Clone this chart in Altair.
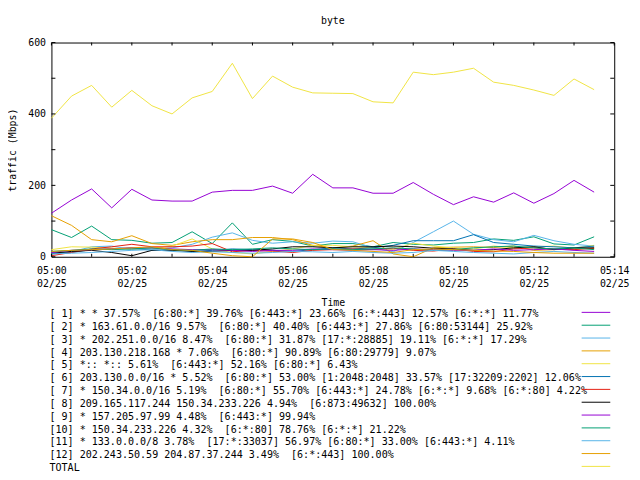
import altair as alt
import pandas as pd

FONT = "DejaVu Sans Mono"

# ---- data (Mbps, sampled every 30 s from 05:00) ----
keys = ["01", "02", "03", "04", "05", "06", "07", "08", "09", "10", "11", "12", "TOTAL"]
colors = ["#9400d3", "#009e73", "#56b4e9", "#e69f00", "#f0e442", "#0072b2", "#e51e10",
          "#000000", "#9400d3", "#009e73", "#56b4e9", "#e69f00", "#f0e442"]

s01 = [122, 159, 190, 137, 189, 159, 156, 156, 181, 186, 186, 198, 178, 231,
       193, 193, 178, 178, 208, 175, 146, 168, 153, 179, 150, 177, 214, 181]
s02 = [76, 54, 86, 48, 46, 38, 40, 70, 37, 95, 35, 48, 43, 30,
       37, 37, 28, 40, 35, 33, 38, 40, 50, 46, 56, 36, 33, 56]
s03 = [10, 14, 28, 30, 20, 22, 25, 35, 55, 67, 46, 38, 42, 38,
       44, 42, 25, 14, 40, 70, 100, 63, 48, 42, 60, 45, 35, 30]
s04 = [115, 88, 48, 42, 59, 37, 32, 42, 48, 48, 54, 54, 48, 32,
       25, 30, 45, 8, 0, 25, 27, 28, 26, 30, 18, 20, 22, 24]
s05 = [20, 28, 27, 24, 22, 22, 30, 50, 22, 12, 8, 15, 22, 32,
       32, 28, 25, 20, 38, 30, 25, 22, 30, 25, 28, 30, 24, 32]
s06 = [8, 12, 20, 22, 25, 18, 20, 15, 18, 22, 20, 18, 15, 20,
       25, 22, 25, 32, 45, 45, 45, 62, 40, 35, 30, 28, 25, 30]
s07 = [3, 12, 22, 28, 35, 28, 28, 30, 37, 14, 18, 16, 12, 18,
       20, 22, 20, 24, 18, 16, 22, 15, 14, 22, 25, 22, 20, 24]
s08 = [10, 15, 18, 12, 3, 18, 18, 15, 15, 18, 18, 22, 28, 28,
       25, 28, 28, 30, 28, 24, 22, 18, 20, 25, 28, 20, 25, 25]
s09 = [12, 18, 20, 22, 25, 25, 22, 20, 20, 18, 15, 18, 18, 22,
       20, 18, 20, 18, 22, 20, 18, 18, 22, 18, 20, 22, 18, 15]
s10 = [15, 18, 22, 20, 22, 25, 20, 18, 22, 20, 22, 25, 22, 20,
       22, 20, 22, 25, 22, 18, 20, 25, 28, 30, 25, 22, 25, 20]
s11 = [8, 10, 12, 15, 18, 20, 15, 12, 14, 12, 10, 12, 15, 14,
       12, 15, 12, 10, 12, 18, 15, 12, 10, 8, 12, 15, 12, 10]
s12 = [15, 18, 20, 22, 25, 28, 20, 18, 10, 3, 0, 50, 50, 40,
       20, 18, 15, 12, 20, 22, 20, 18, 16, 15, 12, 10, 10, 10]
total = [388, 450, 480, 419, 466, 423, 400, 445, 463, 542, 443, 506, 475, 459,
         458, 457, 434, 431, 517, 510, 517, 528, 489, 480, 467, 452, 498, 468]

series = [s01, s02, s03, s04, s05, s06, s07, s08, s09, s10, s11, s12, total]

NB = "\u00a0"
labels = [
    "[ 1] * * 37.57%  [6:80:*] 39.76% [6:443:*] 23.66% [6:*:443] 12.57% [6:*:*] 11.77%",
    "[ 2] * 163.61.0.0/16 9.57%  [6:80:*] 40.40% [6:443:*] 27.86% [6:80:53144] 25.92%",
    "[ 3] * 202.251.0.0/16 8.47%  [6:80:*] 31.87% [17:*:28885] 19.11% [6:*:*] 17.29%",
    "[ 4] 203.130.218.168 * 7.06%  [6:80:*] 90.89% [6:80:29779] 9.07%",
    "[ 5] *:: *:: 5.61%  [6:443:*] 52.16% [6:80:*] 6.43%",
    "[ 6] 203.130.0.0/16 * 5.52%  [6:80:*] 53.00% [1:2048:2048] 33.57% [17:32209:2202] 12.06%",
    "[ 7] * 150.34.0.0/16 5.19%  [6:80:*] 55.70% [6:443:*] 24.78% [6:*:*] 9.68% [6:*:80] 4.22%",
    "[ 8] 209.165.117.244 150.34.233.226 4.94%  [6:873:49632] 100.00%",
    "[ 9] * 157.205.97.99 4.48%  [6:443:*] 99.94%",
    "[10] * 150.34.233.226 4.32%  [6:*:80] 78.76% [6:*:*] 21.22%",
    "[11] * 133.0.0.0/8 3.78%  [17:*:33037] 56.97% [6:80:*] 33.00% [6:443:*] 4.11%",
    "[12] 202.243.50.59 204.87.37.244 3.49%  [6:*:443] 100.00%",
    "TOTAL",
]
labels = [l.replace("  ", " " + NB) for l in labels]

y_ticks = [0, 100, 200, 300, 400, 500, 600]
x_label_minutes = [0, 2, 4, 6, 8, 10, 12, 14]

# ---- tables ----
times = pd.date_range("2024-02-25 05:00:00", periods=len(total), freq="30s")
rows = []
for k, vals in zip(keys, series):
    for t, v in zip(times, vals):
        rows.append({"time": t, "value": v, "key": k})
df = pd.DataFrame(rows)

legend_df = pd.DataFrame({"row": list(range(1, len(keys) + 1)), "key": keys, "label": labels})
minute_df = pd.DataFrame({"t": pd.date_range("2024-02-25 05:00:00", periods=15, freq="1min")})
ytick_df = pd.DataFrame({"v": y_ticks})

def dt(m):
    return alt.DateTime(year=2024, month=2, date=25, hours=5, minutes=m)

W, H = 570, 217
xscale = alt.Scale(domain=[dt(0), dt(14)], nice=False)
yscale = alt.Scale(domain=[0, 600], nice=False)
cscale = alt.Scale(domain=keys, range=colors)

lines = alt.Chart(df).mark_line(strokeWidth=1).encode(
    x=alt.X("time:T", scale=xscale,
            axis=alt.Axis(values=[dt(m) for m in x_label_minutes],
                          labelExpr="[timeFormat(datum.value, '%H:%M'), timeFormat(datum.value, '%m/%d')]",
                          title="Time", titleY=46, titleBaseline="middle",
                          titleFont=FONT, titleFontSize=10, titleFontWeight="normal",
                          labelFont=FONT, labelFontSize=10,
                          labelLineHeight=13, labelPadding=9, labelBaseline="top",
                          labelFlush=False, labelOverlap=False,
                          domain=False, ticks=False, tickSize=0, grid=False)),
    y=alt.Y("value:Q", scale=yscale,
            axis=alt.Axis(values=y_ticks, title="traffic (Mbps)", titleAngle=270,
                          titleX=-39, titleY=H / 2, titleAlign="center", titleBaseline="middle",
                          titleFont=FONT, titleFontSize=10, titleFontWeight="normal",
                          labelFont=FONT, labelFontSize=10,
                          labelPadding=6, domain=False, ticks=False, tickSize=0, grid=False)),
    color=alt.Color("key:N", scale=cscale, legend=None),
)

top_ticks = alt.Chart(minute_df).mark_rule(color="black", strokeWidth=1).encode(
    x=alt.X("t:T", scale=xscale), y=alt.value(0), y2=alt.value(3))
bottom_ticks = alt.Chart(minute_df).mark_rule(color="black", strokeWidth=1).encode(
    x=alt.X("t:T", scale=xscale), y=alt.value(H - 3), y2=alt.value(H))
left_ticks = alt.Chart(ytick_df).mark_rule(color="black", strokeWidth=1).encode(
    y=alt.Y("v:Q", scale=yscale), x=alt.value(0), x2=alt.value(4))
right_ticks = alt.Chart(ytick_df).mark_rule(color="black", strokeWidth=1).encode(
    y=alt.Y("v:Q", scale=yscale), x=alt.value(W - 4), x2=alt.value(W))

main = alt.layer(lines, top_ticks, bottom_ticks, left_ticks, right_ticks)

row_scale = alt.Scale(domain=[1, 13], range=[275, 431])
leg_text = alt.Chart(legend_df).mark_text(
    align="left", baseline="middle", font=FONT, fontSize=10.17, color="black").encode(
    x=alt.value(-2),
    y=alt.Y("row:Q", scale=row_scale, axis=None),
    text="label:N",
)
leg_rule = alt.Chart(legend_df).mark_rule(strokeWidth=1).encode(
    x=alt.value(537), x2=alt.value(566),
    y=alt.Y("row:Q", scale=alt.Scale(domain=[1, 13], range=[273.3, 429.3]), axis=None),
    color=alt.Color("key:N", scale=cscale, legend=None),
)
legend = alt.layer(leg_text, leg_rule).resolve_scale(y="independent")

chart = alt.layer(main, legend).resolve_scale(y="independent").properties(
    width=W, height=H,
    title=alt.TitleParams("byte", font=FONT, fontSize=10, fontWeight="normal",
                          anchor="middle", baseline="alphabetic", offset=4, color="black"),
    autosize=alt.AutoSizeParams(type="none"),
    padding={"left": 44, "top": 32, "right": 18, "bottom": 215},
).configure(background="white").configure_view(
    stroke="black", strokeWidth=1
).configure_axis(
    domain=False, ticks=False, grid=False,
    labelFont=FONT, labelFontSize=10, labelColor="black",
    titleFont=FONT, titleFontSize=10, titleFontWeight="normal", titleColor="black",
)

chart.save("out.html", embed_options={"renderer": "svg", "actions": False})
